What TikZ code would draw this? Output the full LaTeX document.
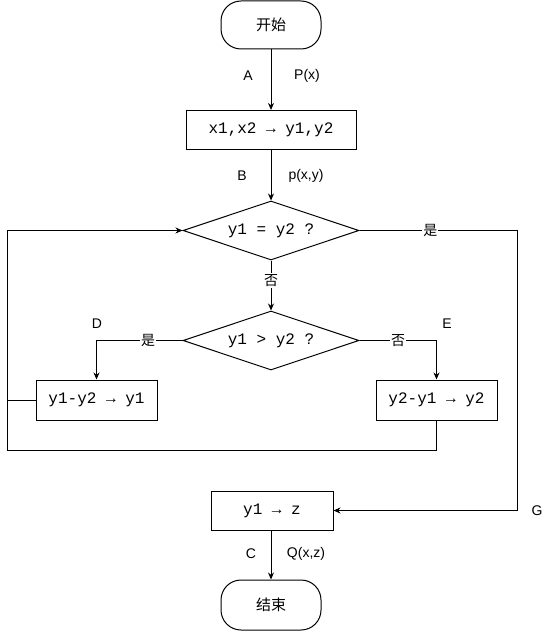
\documentclass[tikz,border=0pt]{standalone}
\usepackage{fontspec}
\setmainfont{Liberation Sans}
\newfontfamily\cjk{Noto Sans CJK SC}
\newfontfamily\mono{Liberation Mono}
\usetikzlibrary{shapes.geometric,arrows.meta}
\begin{document}
\begin{tikzpicture}[x=1pt,y=-1pt,
  every path/.style={line width=1pt},
  term/.style={draw,rounded corners=20pt,minimum width=100pt,minimum height=48pt,inner sep=0pt,font=\cjk\fontsize{15pt}{18pt}\selectfont},
  proc/.style={draw,minimum height=39pt,inner sep=0pt,font=\mono\fontsize{16pt}{19pt}\selectfont},
  dec/.style={draw,diamond,aspect=3,minimum width=176pt,minimum height=59pt,inner sep=0pt,font=\mono\fontsize{16pt}{19pt}\selectfont},
  arr/.style={-{Stealth[length=7pt,width=6pt]}},
  lbl/.style={fill=white,inner sep=1pt,font=\cjk\fontsize{14pt}{16pt}\selectfont},
  tag/.style={inner sep=0pt,font=\fontsize{14pt}{16pt}\selectfont}]
\useasboundingbox (0,0) rectangle (558,631);
\fill[white] (0,0) rectangle (558,631);
% nodes
\node[term] (start) at (271,25) {开始};
\node[proc,minimum width=170pt] (b1) at (271,130) {x1,x2 → y1,y2};
\node[dec] (d1) at (271,230.5) {y1 = y2 ?};
\node[dec] (d2) at (271,340.5) {y1 > y2 ?};
\node[proc,minimum width=121pt,minimum height=40pt] (bd) at (96.5,400) {y1-y2 → y1};
\node[proc,minimum width=121pt,minimum height=40pt] (be) at (436.5,400) {y2-y1 → y2};
\node[proc,minimum width=122pt] (bg) at (272,510.5) {y1 → z};
\node[term,minimum height=50pt] (stop) at (271,605) {结束};
\coordinate (cg) at (517,230.5);
\coordinate (lb) at (7,450);
% tags
\node[tag] (tA) at (248,76) {A};
\node[tag] (tP) at (307,76) {P(x)};
\node[tag] (tB) at (242,176) {B};
\node[tag] (tp) at (306,176) {p(x,y)};
\node[tag] (tD) at (97,324) {D};
\node[tag] (tE) at (447,324) {E};
\node[tag] (tG) at (537,511) {G};
\node[tag] (tC) at (251,554) {C};
\node[tag] (tQ) at (306,554) {Q(x,z)};
% connectors
\draw[arr] (start) -- (b1);
\draw[arr] (b1) -- (d1);
\draw[arr] (d1.east) -- node[lbl,pos=0.45] {是} (cg) |- (bg.east);
\draw[arr] (d1.south) -- node[lbl,pos=0.4] {否} (d2.north);
\draw[arr] (d2.west) -| node[lbl,pos=0.2] {是} (bd.north);
\draw[arr] (d2.east) -| node[lbl,pos=0.25] {否} (be.north);
\draw[arr] (be.south) |- (lb) |- (d1.west);
\draw (bd.west) -- (bd.west -| lb);
\draw[arr] (bg.south -| stop.north) -- (stop.north);
\end{tikzpicture}
\end{document}
